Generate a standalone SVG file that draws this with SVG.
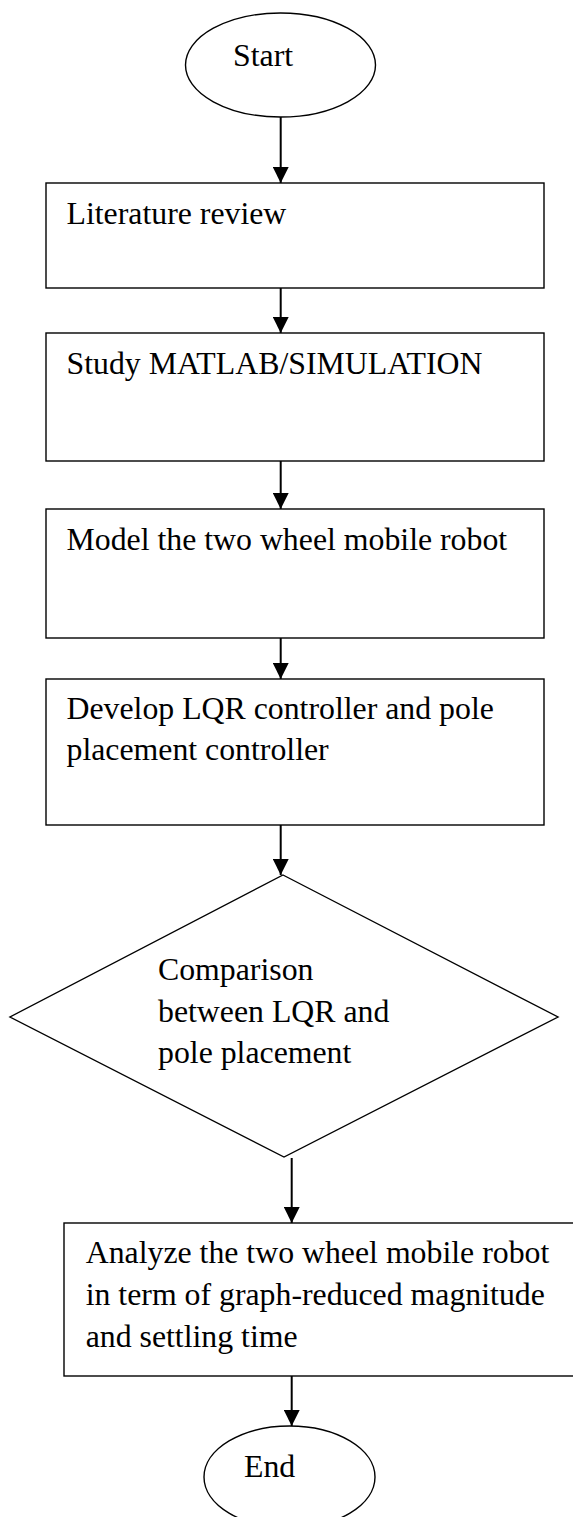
<svg xmlns="http://www.w3.org/2000/svg" width="573" height="1517" viewBox="0 0 573 1517">
<style>
.shape{fill:#fff;stroke:#000;stroke-width:1.4}
.conn{stroke:#000;stroke-width:2;fill:none}
text{font-family:"Liberation Serif","Times New Roman",serif;font-size:31.8px;fill:#000}
</style>
<defs>
<marker id="ah" viewBox="0 0 16 16" refX="16" refY="8" markerWidth="16" markerHeight="16" markerUnits="userSpaceOnUse" orient="auto">
<path d="M0,0 L16,8 L0,16 Z" fill="#000"/>
</marker>
</defs>
<rect width="573" height="1517" fill="#fff"/>
<g id="start">
<ellipse class="shape" cx="280.5" cy="65" rx="95" ry="52"/>
<text x="233" y="65.5">Start</text>
</g>
<g id="literature">
<rect class="shape" x="46" y="183" width="498" height="105"/>
<text x="66.5" y="224">Literature review</text>
</g>
<g id="study">
<rect class="shape" x="46" y="333" width="498" height="128"/>
<text x="66.5" y="374">Study MATLAB/SIMULATION</text>
</g>
<g id="model">
<rect class="shape" x="46" y="509" width="498" height="129"/>
<text x="66.5" y="549.5">Model the two wheel mobile robot</text>
</g>
<g id="develop">
<rect class="shape" x="46" y="679" width="498" height="146"/>
<text x="66.5" y="718.5">Develop LQR controller and pole</text>
<text x="66.5" y="760">placement controller</text>
</g>
<g id="comparison">
<polygon class="shape" points="283,875 558,1017 284,1157 10,1017"/>
<text x="158" y="980">Comparison</text>
<text x="158" y="1021.7">between LQR and</text>
<text x="158" y="1063.3">pole placement</text>
</g>
<g id="analyze">
<rect class="shape" x="64" y="1223" width="515" height="153"/>
<text x="85.7" y="1263.3">Analyze the two wheel mobile robot</text>
<text x="85.7" y="1305">in term of graph-reduced magnitude</text>
<text x="85.7" y="1346.7">and settling time</text>
</g>
<g id="end">
<ellipse class="shape" cx="289.5" cy="1477" rx="85.5" ry="51"/>
<text x="244" y="1477">End</text>
</g>
<g id="connectors">
<line class="conn" x1="280.7" y1="117" x2="280.7" y2="183" marker-end="url(#ah)"/>
<line class="conn" x1="280.7" y1="288" x2="280.7" y2="333" marker-end="url(#ah)"/>
<line class="conn" x1="280.7" y1="461" x2="280.7" y2="509" marker-end="url(#ah)"/>
<line class="conn" x1="280.7" y1="638" x2="280.7" y2="679" marker-end="url(#ah)"/>
<line class="conn" x1="280.7" y1="825" x2="280.7" y2="875" marker-end="url(#ah)"/>
<line class="conn" x1="291.7" y1="1158" x2="291.7" y2="1223" marker-end="url(#ah)"/>
<line class="conn" x1="291.7" y1="1376" x2="291.7" y2="1426" marker-end="url(#ah)"/>
</g>
</svg>
